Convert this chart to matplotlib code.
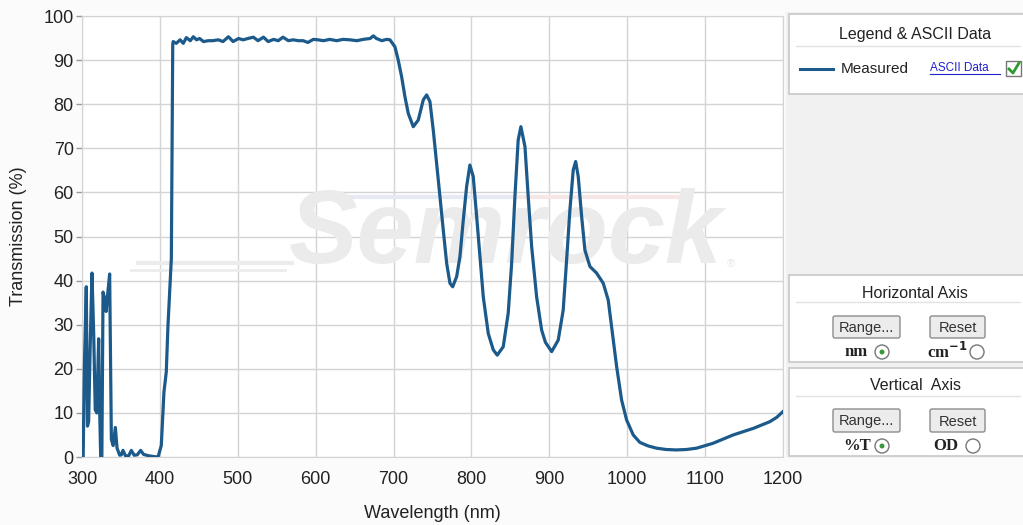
import matplotlib.pyplot as plt
from matplotlib.patches import Rectangle, FancyBboxPatch, Circle

# traced spectrum (wavelength in nm, transmission in %)
wavelength = [
    300, 301.5, 303, 305.5, 307, 308.5, 310.5, 312.8, 315, 317, 319, 321.4, 322.5, 324, 325.5,
    327, 329, 331, 333, 335.5, 337.7, 340, 342.8, 345, 348.4, 350.5, 352.6, 356, 360, 363.3,
    367, 371, 375.3, 379, 385, 392, 397.6, 401.8, 405.2, 408.2, 410.4, 414.7, 416.5,
    417, 421, 426, 430, 434, 439, 443, 447, 451, 456, 462, 468, 475, 481, 488, 494, 501, 507,
    513, 520, 526, 533, 539, 546, 552, 558, 565, 571, 578, 584, 590, 597, 603, 610, 618, 627,
    635, 644, 653, 661, 670, 674, 678, 685, 691, 695.4,
    701.8, 706, 710.4, 714.6, 718.9, 725.3, 731.7, 738.2, 742.5, 746.7, 751, 755.3, 759.6,
    763.8, 768.2, 772.4, 775.9, 781, 785.2, 789.5, 793.8, 798, 802.3, 806.7, 810.9, 815.2,
    821.6, 828, 833.1, 840.8, 847.2, 851.6, 855.8, 860, 863.5, 868.7, 872.9, 877.3, 883.7,
    890.1, 895, 903, 911.4, 917.8, 922.2, 926.4, 930.7, 933.8, 937.1, 941.5, 945.7, 952.1,
    960.7, 969.2, 975.6, 980, 986.4, 992.8, 999.2, 1007.7, 1016.3, 1027, 1037.7, 1050, 1063,
    1076, 1089, 1110, 1136, 1162, 1183, 1192, 1200,
]
transmission = [
    0, 0, 20, 38.6, 7, 8, 25, 41.7, 28, 10.7, 10, 26.8, 12, 0, 0,
    37.4, 36, 33, 37, 41.5, 4, 2.6, 6.7, 2, 0.4, 0.5, 1.5, 0.2, 0.3, 1.5,
    0.4, 0.5, 1.5, 0.6, 0.3, 0.1, 0, 2.6, 14.7, 19.3, 29.9, 45, 93.5,
    94.2, 93.8, 94.6, 93.8, 95.1, 94.4, 95.3, 94.6, 94.9, 94.2, 94.4, 94.4, 94.6, 94.2, 95.3, 94.2, 94.9, 94.6,
    94.9, 95.2, 94.4, 95.2, 94.2, 94.7, 94.4, 95.2, 94.4, 94.6, 94.4, 94.4, 94.0, 94.7, 94.6, 94.4, 94.7, 94.4,
    94.7, 94.6, 94.4, 94.7, 94.9, 95.5, 94.9, 94.4, 94.7, 94.6,
    93.0, 90.0, 86.2, 81.7, 77.9, 74.9, 76.4, 81.0, 82.1, 80.6, 74.1, 66.6, 59.0,
    51.5, 43.9, 39.4, 38.6, 40.9, 45.4, 53.7, 61.3, 66.2, 63.6, 54.5, 45.4, 36.3,
    28.0, 24.3, 23.1, 25.0, 32.6, 43.9, 59.0, 71.9, 74.9, 70.4, 59.0, 47.7, 36.3,
    28.8, 26.0, 23.9, 26.5, 33.3, 44.7, 56.0, 65.1, 67.0, 63.6, 54.5, 46.9, 43.2,
    41.7, 39.4, 35.6, 29.5, 20.5, 12.9, 8.4, 5.0, 3.3, 2.5, 2.0, 1.7, 1.6,
    1.7, 2.0, 3.1, 5.0, 6.5, 8.0, 9.0, 10.3,
]
x_ticks = [300, 400, 500, 600, 700, 800, 900, 1000, 1100, 1200]
y_ticks = [0, 10, 20, 30, 40, 50, 60, 70, 80, 90, 100]

LINE = "#1b5a8a"
W, H = 1023, 525

plt.rcParams["font.family"] = ["Liberation Sans", "DejaVu Sans"]
fig = plt.figure(figsize=(W / 100, H / 100), dpi=100)
fig.patch.set_facecolor("#fbfbfb")

# background / side panel drawn in pixel coords
bg = fig.add_axes([0, 0, 1, 1], zorder=0)
bg.set_xlim(0, W)
bg.set_ylim(H, 0)
bg.axis("off")
bg.add_patch(Rectangle((786, 12), 240, 446, facecolor="#f1f1f1", edgecolor="none"))


def panel(y0, y1, title, title_y, sep_y):
    bg.add_patch(Rectangle((789, y0), 240, y1 - y0, facecolor="white", edgecolor="#c8c8c8", lw=1.2))
    bg.text(915, title_y, title, ha="center", va="center", fontsize=11.5, color="#222222")
    bg.plot([796, 1020], [sep_y, sep_y], color="#e2e2e2", lw=1)


def button(x0, x1, y0, y1, label):
    bg.add_patch(FancyBboxPatch((x0, y0), x1 - x0, y1 - y0, boxstyle="round,pad=0,rounding_size=2",
                                facecolor="#ececec", edgecolor="#8c8c8c", lw=1))
    bg.text((x0 + x1) / 2, (y0 + y1) / 2 + 1, label, ha="center", va="center", fontsize=10.5, color="#333333")


def radio(x, y, on):
    bg.add_patch(Circle((x, y), 7, facecolor="white", edgecolor="#777777", lw=1))
    if on:
        bg.add_patch(Circle((x, y), 2.5, facecolor="#3a9a3a", edgecolor="none"))


panel(14, 94, "Legend & ASCII Data", 34, 46)
bg.plot([800, 833], [69, 69], color=LINE, lw=2.2)
bg.text(841, 69, "Measured", va="center", fontsize=11, color="#222222")
bg.text(930, 68, "ASCII Data", va="center", fontsize=8.5, color="#2020cc")
bg.plot([930, 1000], [74, 74], color="#2020cc", lw=0.8)
bg.add_patch(Rectangle((1006, 61), 15, 15, facecolor="white", edgecolor="#777777", lw=1))
bg.plot([1009, 1013, 1019], [69, 73, 63], color="#2e9a2e", lw=2)

panel(275, 362, "Horizontal Axis", 293, 302)
button(833, 900, 316, 338, "Range...")
button(930, 985, 316, 338, "Reset")
bg.text(856, 352, "nm", ha="center", va="center", fontsize=12, fontweight="bold",
        family="Liberation Serif", color="#222222")
radio(882, 352, True)
bg.text(947, 352, r"cm$^{\mathbf{-1}}$", ha="center", va="center", fontsize=12, fontweight="bold",
        family="Liberation Serif", color="#222222")
radio(977, 352, False)

panel(368, 456, "Vertical  Axis", 386, 396)
button(833, 900, 409, 432, "Range...")
button(930, 985, 409, 432, "Reset")
bg.text(857, 446, "%T", ha="center", va="center", fontsize=12, fontweight="bold",
        family="Liberation Serif", color="#222222")
radio(882, 446, True)
bg.text(946, 446, "OD", ha="center", va="center", fontsize=12, fontweight="bold",
        family="Liberation Serif", color="#222222")
radio(973, 446, False)

# main plot
ax = fig.add_axes([82 / W, 1 - 457 / H, (783 - 82) / W, (457 - 16) / H], zorder=1)
ax.set_facecolor("white")
ax.plot(wavelength, transmission, color=LINE, lw=2.3, zorder=3, solid_joinstyle="round")
ax.set_xlim(300, 1200)
ax.set_ylim(0, 100)
ax.set_xticks(x_ticks)
ax.set_yticks(y_ticks)
ax.grid(True, color="#d4d4d4", lw=1)
ax.set_axisbelow(True)
for s in ax.spines.values():
    s.set_color("#d4d4d4")
ax.tick_params(axis="x", length=0, labelsize=13, colors="#222222", pad=10)
ax.tick_params(axis="y", length=4, width=1, color="#999999", labelsize=13,
               labelcolor="#222222", pad=2)
ax.set_xlabel("Wavelength (nm)", fontsize=13, color="#222222", labelpad=12)
ax.set_ylabel("Transmission (%)", fontsize=13, color="#222222", labelpad=12)

# faint watermark
ax.plot([0.08, 0.30], [0.44, 0.44], transform=ax.transAxes, color="#ececec", lw=3, zorder=1)
ax.plot([0.07, 0.29], [0.425, 0.425], transform=ax.transAxes, color="#ececec", lw=2, zorder=1)
ax.plot([0.36, 0.62], [0.59, 0.59], transform=ax.transAxes, color="#e6e8f4", lw=3, zorder=1)
ax.plot([0.62, 0.86], [0.59, 0.59], transform=ax.transAxes, color="#f6e6e6", lw=3, zorder=1)
ax.text(0.605, 0.5, "Semrock", transform=ax.transAxes, ha="center", va="center",
        fontsize=74, fontweight="bold", style="italic", color="#ebebeb", zorder=1)
ax.text(0.92, 0.43, "®", transform=ax.transAxes, fontsize=8, color="#e6e6e6", zorder=1)

plt.savefig("out.png", dpi=100)
